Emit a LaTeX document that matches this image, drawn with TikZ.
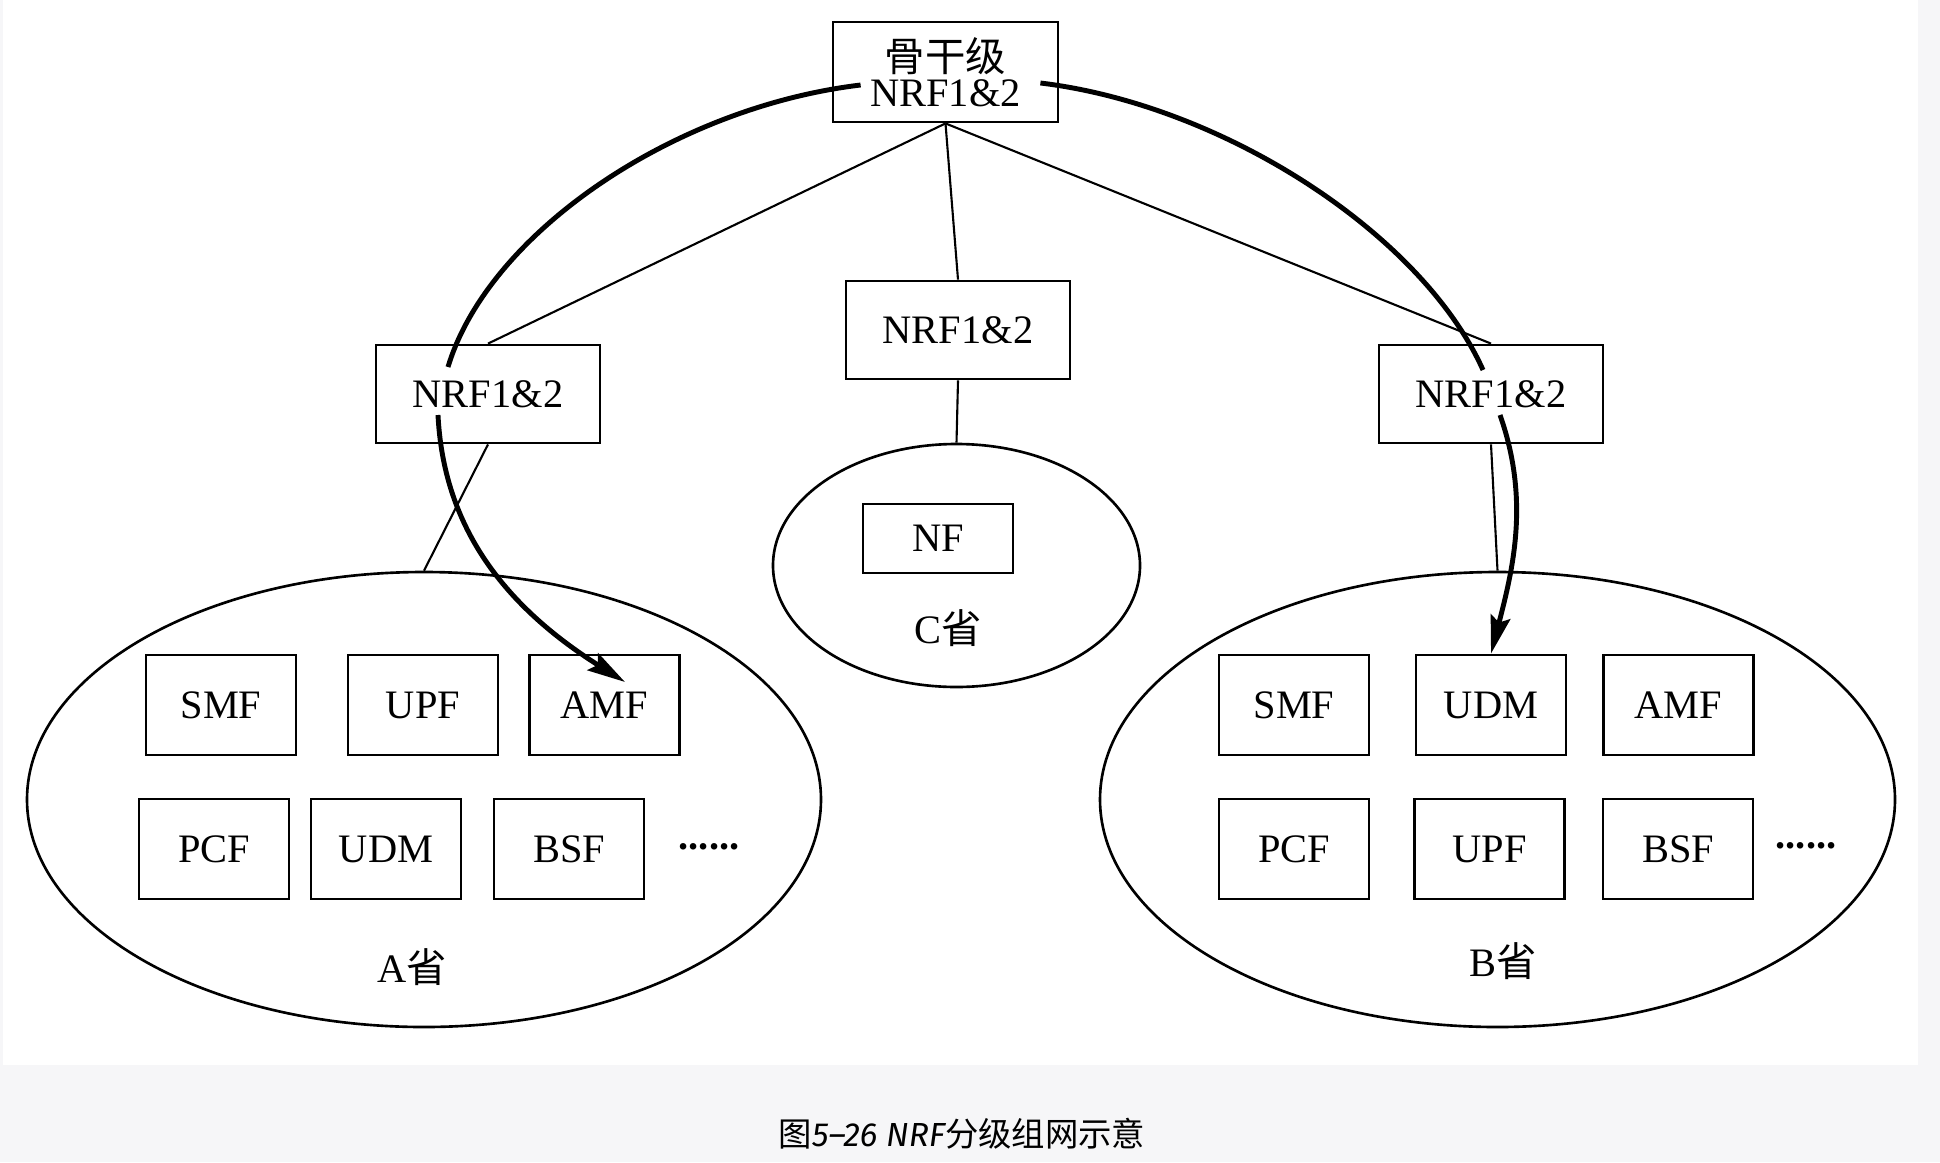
\documentclass[tikz,border=0pt]{standalone}
\usepackage{fontspec}
\setmainfont{Liberation Serif}
\newfontfamily\cjk{Noto Sans CJK SC}
\newfontfamily\capfont{Fira Sans}
\usetikzlibrary{arrows.meta,calc,shapes.geometric}
\definecolor{pagegray}{HTML}{F6F6F8}
\tikzset{
	nfbox/.style={draw, line width=0.8pt, minimum width=1.5cm, minimum height=1cm, inner sep=0pt, font=\fontsize{11.5}{13}\selectfont},
	nrfbox/.style={nfbox, minimum width=2.24cm, minimum height=0.98cm},
	prov/.style={draw, ellipse, line width=0.75pt, inner sep=0pt},
	lbl/.style={inner sep=0pt, font=\fontsize{11.5}{13}\selectfont},
	link/.style={line width=0.6pt},
	flow/.style={line width=1.4pt},
	flowtip/.style={flow, -{Stealth[length=3.8mm, width=2mm, inset=0.6mm]}}
}

\begin{document}
\begin{tikzpicture}
			%%%%% START %%%%%
			
			\fill[pagegray] (0, 0) rectangle (19.40, 11.62);
			\fill[white] (0.03, 0.97) rectangle (19.18, 11.62);
			
			% provinces
			\node[prov, minimum width=7.94cm, minimum height=4.55cm] (provA) at (4.24, 3.625) {};
			\node[prov, minimum width=7.95cm, minimum height=4.55cm] (provB) at (14.975, 3.625) {};
			\node[prov, minimum width=3.67cm, minimum height=2.43cm] (provC) at (9.565, 5.965) {};
			
			% NRF levels
			\node[nrfbox, minimum width=2.25cm, minimum height=1cm, align=center, font=\fontsize{11.5}{10}\selectfont] (core) at (9.455, 10.90) {{\cjk 骨干级}\\NRF1\&2};
			\node[nrfbox] (nrfA) at (4.88, 7.68) {NRF1\&2};
			\node[nrfbox] (nrfC) at (9.58, 8.32) {NRF1\&2};
			\node[nrfbox] (nrfB) at (14.91, 7.68) {NRF1\&2};
			
			% A
			\node[nfbox] (smfA) at (2.21, 4.57) {SMF};
			\node[nfbox] (upfA) at (4.23, 4.57) {UPF};
			\node[nfbox] (amfA) at (6.045, 4.57) {AMF};
			\node[nfbox] (pcfA) at (2.14, 3.13) {PCF};
			\node[nfbox] (udmA) at (3.86, 3.13) {UDM};
			\node[nfbox] (bsfA) at (5.69, 3.13) {BSF};
			\node[lbl] (moreA) at (7.09, 3.15) {\textbf{......}};
			\node[lbl] (labA) at (4.12, 1.95) {A{\cjk 省}};
			
			% B
			\node[nfbox] (smfB) at (12.94, 4.57) {SMF};
			\node[nfbox] (udmB) at (14.91, 4.57) {UDM};
			\node[nfbox] (amfB) at (16.785, 4.57) {AMF};
			\node[nfbox] (pcfB) at (12.94, 3.13) {PCF};
			\node[nfbox] (upfB) at (14.895, 3.13) {UPF};
			\node[nfbox] (bsfB) at (16.78, 3.13) {BSF};
			\node[lbl] (moreB) at (18.06, 3.16) {\textbf{......}};
			\node[lbl] (labB) at (15.03, 2.01) {B{\cjk 省}};
			
			% C
			\node[nfbox, minimum height=0.69cm] (nfC) at (9.38, 6.235) {NF};
			\node[lbl] (labC) at (9.48, 5.34) {C{\cjk 省}};
			
			\draw[link] (core.south) -- (nrfA.north);
			\draw[link] (core.south) -- (nrfC.north);
			\draw[link] (core.south) -- (nrfB.north);
			\draw[link] (nrfA.south) -- (provA.north);
			\draw[link] (nrfC.south) -- (provC.north);
			\draw[link] (nrfB.south) -- (provB.north);
			
			\coordinate (inA0) at ($(core.west)+(0.29, -0.13)$);
			\coordinate (inA1) at ($(nrfA.center)+(-0.40, 0.27)$);
			\coordinate (inA2) at ($(nrfA.center)+(-0.50, -0.21)$);
			\coordinate (inA3) at ($(amfA.center)+(0.205, 0.23)$);
			\coordinate (inB0) at ($(core.east)+(-0.19, -0.11)$);
			\coordinate (inB1) at ($(nrfB.center)+(-0.08, 0.24)$);
			\coordinate (inB2) at ($(nrfB.center)+(0.09, -0.21)$);
			
			\draw[flow] (inA0) .. controls +(-1.88, -0.225) and +(0.40, 1.33) .. (inA1);
			\draw[flowtip] (inA2) .. controls +(0.054, -1.078) and +(-1.255, 0.791) .. (inA3);
			\draw[flow] (inB0) .. controls +(1.83, -0.22) and +(-0.61, 1.36) .. (inB1);
			\draw[flowtip] (inB2) .. controls +(0.30, -0.85) and +(0.22, 0.85) .. (udmB.north);
			
			\node[inner sep=0pt, font=\fontsize{9.5}{11}\selectfont] (caption) at (9.62, 0.28) {{\cjk 图}{\capfont\itshape 5–26 NRF}{\cjk 分级组网示意}};
			
			%%%%% END %%%%%
\end{tikzpicture}
\end{document}
